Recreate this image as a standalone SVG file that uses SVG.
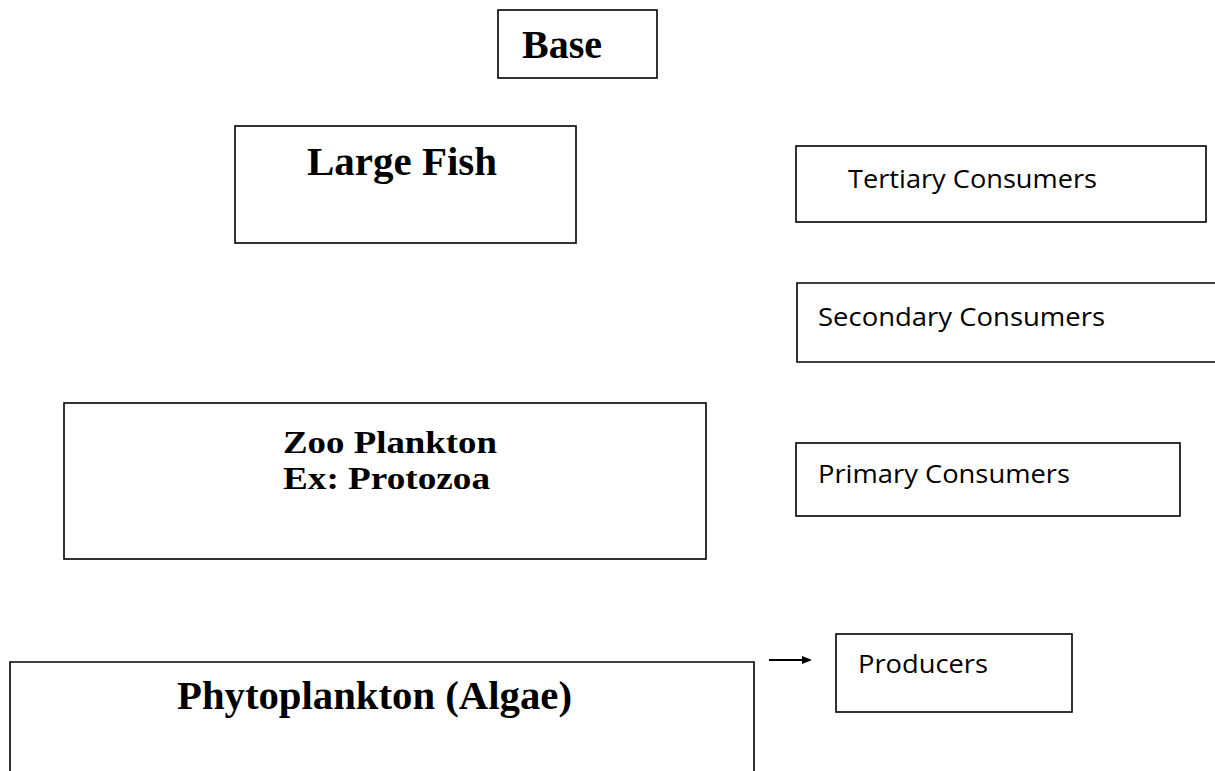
<svg xmlns="http://www.w3.org/2000/svg" width="1215" height="771" viewBox="0 0 1215 771">
<style>
.box{fill:#fff;stroke:#000;stroke-width:1.6}
.serif{font-family:"Liberation Serif","Times New Roman",serif;font-weight:bold;fill:#000}
.sans{font-family:"Open Sans","Liberation Sans",sans-serif;font-size:26px;fill:#000}
.conn{stroke:#000;stroke-width:2;fill:none}
</style>
<rect width="1215" height="771" fill="#fff"/>
<g id="base">
<rect class="box" x="498" y="10" width="159" height="68"/>
<text class="serif" x="522" y="58" font-size="40" textLength="80" lengthAdjust="spacingAndGlyphs">Base</text>
</g>
<g id="large-fish">
<rect class="box" x="235" y="126" width="341" height="117"/>
<text class="serif" x="307" y="175" font-size="40" textLength="190" lengthAdjust="spacingAndGlyphs">Large Fish</text>
</g>
<g id="zoo-plankton">
<rect class="box" x="64" y="403" width="642" height="156"/>
<text class="serif" x="283" y="453" font-size="32.5" textLength="214" lengthAdjust="spacingAndGlyphs">Zoo Plankton</text>
<text class="serif" x="283" y="489" font-size="32.5" textLength="207" lengthAdjust="spacingAndGlyphs">Ex: Protozoa</text>
</g>
<g id="phytoplankton">
<path class="box" d="M10,772 V662 H754 V772"/>
<text class="serif" x="177" y="709" font-size="40" textLength="395" lengthAdjust="spacingAndGlyphs">Phytoplankton (Algae)</text>
</g>
<g id="tertiary">
<rect class="box" x="796" y="146" width="410" height="76"/>
<text class="sans" x="848" y="188" textLength="249" lengthAdjust="spacingAndGlyphs">Tertiary Consumers</text>
</g>
<g id="secondary">
<path class="box" d="M1217,283 H797 V362 H1217"/>
<text class="sans" x="818" y="326" textLength="287" lengthAdjust="spacingAndGlyphs">Secondary Consumers</text>
</g>
<g id="primary">
<rect class="box" x="796" y="443" width="384" height="73"/>
<text class="sans" x="818" y="483" textLength="252" lengthAdjust="spacingAndGlyphs">Primary Consumers</text>
</g>
<g id="producers">
<rect class="box" x="836" y="634" width="236" height="78"/>
<text class="sans" x="858" y="673" textLength="130" lengthAdjust="spacingAndGlyphs">Producers</text>
</g>
<g id="connectors">
<line class="conn" x1="769" y1="660" x2="804" y2="660"/>
<polygon points="812,660 802,656 802,664" fill="#000"/>
</g>
</svg>
